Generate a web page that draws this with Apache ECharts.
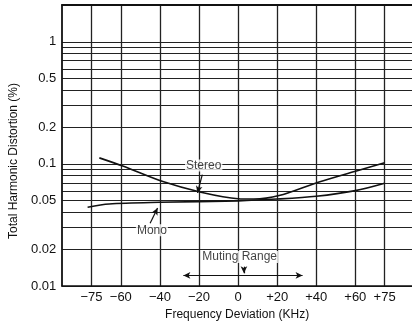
<!DOCTYPE html>
<html>
<head>
<meta charset="utf-8">
<script src="https://cdn.jsdelivr.net/npm/echarts@6/dist/echarts.min.js"></script>
<style>
html,body{margin:0;padding:0;background:#fff;}
#chart{width:412px;height:327px;}
</style>
</head>
<body>
<div id="chart"></div>
<script>
// Frequency deviation (kHz) and THD (%)
const stereoFreq = [-71, -59, -38.5, -19, 0, 8, 21, 41, 61, 75];
const stereoTHD  = [0.112, 0.096, 0.0716, 0.0586, 0.0518, 0.0515, 0.055, 0.0708, 0.088, 0.102];
const monoFreq = [-77, -66, -40, 0, 20, 40, 60, 75];
const monoTHD  = [0.0442, 0.047, 0.0485, 0.0498, 0.0515, 0.0543, 0.0604, 0.0695];

const xTickValues = [-75, -60, -40, -20, 0, 20, 40, 60, 75];
const yGridValues = [0.01, 0.02, 0.03, 0.04, 0.05, 0.06, 0.07, 0.08, 0.09, 0.1,
                     0.2, 0.3, 0.4, 0.5, 0.6, 0.7, 0.8, 0.9, 1, 2];
const yLabelValues = [0.01, 0.02, 0.05, 0.1, 0.2, 0.5, 1];

// annotations (data coordinates)
const annotationTexts = ['Stereo', 'Mono', 'Muting Range'];
const annotationX = [-17.6, -44.1, 0.8];
const annotationY = [0.0968, 0.0286, 0.0173];
const stereoLeader = [[-18.3, 0.0817], [-20.8, 0.0578]];
const monoLeader = [[-45, 0.0327], [-41.2, 0.0435]];
const mutingRange = [[-28, 0.0122], [33, 0.0122]];
const mutingMark = [[3, 0.0144], [3, 0.0127]];

const FONT = '"Liberation Sans", Arial, Helvetica, sans-serif';
const INK = '#111';

const chart = echarts.init(document.getElementById('chart'), null, {renderer: 'canvas'});

function pairs(xs, ys) { return xs.map((x, i) => [x, ys[i]]); }

const option = {
  animation: false,
  backgroundColor: '#fff',
  grid: {left: 61, right: 0, top: 5, bottom: 41},
  xAxis: [{
    type: 'value', min: -90, max: 89,
    name: 'Frequency Deviation (KHz)', nameLocation: 'middle', nameGap: 23,
    nameTextStyle: {fontFamily: FONT, fontSize: 12, color: INK},
    axisLine: {show: true, onZero: false, lineStyle: {color: INK, width: 1.5}},
    axisTick: {show: false, customValues: xTickValues},
    axisLabel: {
      customValues: xTickValues, fontFamily: FONT, fontSize: 13, color: INK, margin: 5,
      formatter: v => v > 0 ? '+' + v : (v < 0 ? '\u2212' + (-v) : '0')
    },
    splitLine: {show: true, lineStyle: {color: '#222', width: 1.3}}
  }, {
    type: 'value', min: -90, max: 89, position: 'top',
    axisLine: {show: true, onZero: false, lineStyle: {color: INK, width: 2}},
    axisTick: {show: false}, axisLabel: {show: false}, splitLine: {show: false}
  }],
  yAxis: {
    type: 'log', min: 0.01, max: 2, logBase: 10,
    name: 'Total Harmonic Distortion (%)', nameLocation: 'middle', nameGap: 41,
    nameTextStyle: {fontFamily: FONT, fontSize: 12, color: INK, padding: [0, 31, 0, 0]},
    axisLine: {show: true, onZero: false, lineStyle: {color: INK, width: 1.8}},
    axisTick: {show: false, customValues: yGridValues},
    axisLabel: {
      customValues: yLabelValues, fontFamily: FONT, fontSize: 13, color: INK, margin: 6,
      formatter: v => String(v)
    },
    splitLine: {show: true, lineStyle: {color: '#222', width: 1}}
  },
  series: [
    {
      name: 'Stereo', type: 'line', smooth: 0.3, showSymbol: false,
      data: pairs(stereoFreq, stereoTHD),
      lineStyle: {color: INK, width: 1.6}
    },
    {
      name: 'Mono', type: 'line', smooth: 0.3, showSymbol: false,
      data: pairs(monoFreq, monoTHD),
      lineStyle: {color: INK, width: 1.6}
    },
    {
      name: 'annotations', type: 'scatter', symbolSize: 0, silent: true,
      data: annotationTexts.map((t, i) => ({name: t, value: [annotationX[i], annotationY[i]]})),
      label: {
        show: true, position: 'inside', formatter: p => p.name,
        fontFamily: FONT, fontSize: 12, color: INK, backgroundColor: '#fff', padding: [0, 1]
      },
      markLine: {
        silent: true, symbol: ['none', 'arrow'], symbolSize: [5, 7],
        label: {show: false},
        lineStyle: {color: INK, width: 1.2, type: 'solid'},
        data: [
          [{coord: stereoLeader[0]}, {coord: stereoLeader[1]}],
          [{coord: monoLeader[0]}, {coord: monoLeader[1]}],
          [{coord: mutingMark[0]}, {coord: mutingMark[1]}],
          [{coord: mutingRange[0], symbol: 'arrow'}, {coord: mutingRange[1]}]
        ]
      }
    }
  ]
};
chart.setOption(option);
</script>
</body>
</html>
